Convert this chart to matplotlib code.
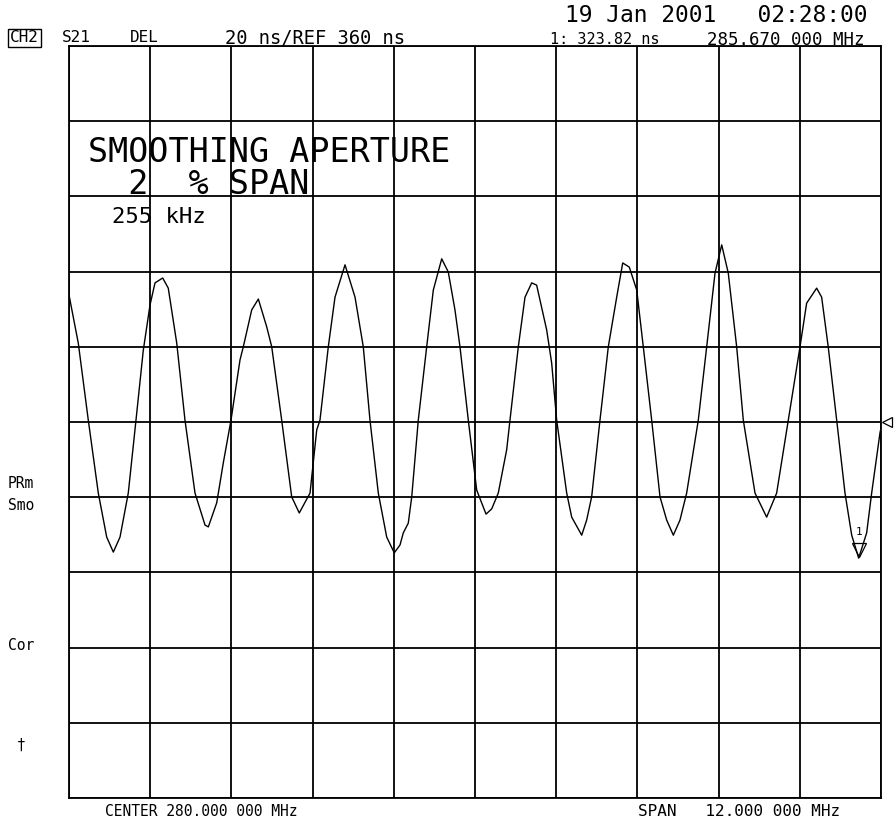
import numpy as np
import matplotlib
matplotlib.use("Agg")
import matplotlib.pyplot as plt
from matplotlib.transforms import offset_copy

# trace: frequency (MHz) vs group delay (ns)
freq_mhz = [274.000, 274.137, 274.285, 274.433, 274.557, 274.655, 274.754, 274.876,
            274.990, 275.098, 275.197, 275.271, 275.385, 275.467, 275.592, 275.714,
            275.862, 276.010, 276.059, 276.183, 276.280, 276.394, 276.527, 276.576,
            276.700, 276.798, 276.922, 276.996, 277.143, 277.291, 277.403, 277.562,
            277.661, 277.709, 277.832, 277.931, 278.079, 278.227, 278.349, 278.448,
            278.571, 278.695, 278.807, 278.892, 278.940, 279.014, 279.065, 279.162,
            279.286, 279.384, 279.508, 279.605, 279.704, 279.778, 279.901, 280.025,
            280.163, 280.247, 280.344, 280.468, 280.517, 280.640, 280.739, 280.838,
            280.911, 281.059, 281.133, 281.207, 281.355, 281.429, 281.577, 281.650,
            281.724, 281.847, 281.970, 282.094, 282.183, 282.280, 282.390, 282.487,
            282.611, 282.734, 282.833, 282.931, 283.029, 283.128, 283.300, 283.424,
            283.547, 283.646, 283.743, 283.867, 283.965, 284.138, 284.310, 284.458,
            284.630, 284.803, 284.901, 285.049, 285.123, 285.220, 285.345, 285.468,
            285.567, 285.670, 285.788, 285.862, 285.985, 286.000]
delay_ns = [393.8, 381.0, 360.5, 341.1, 329.4, 325.4, 329.4, 341.1,
            360.5, 379.1, 391.1, 397.0, 398.3, 395.6, 381.0, 360.5,
            341.1, 332.6, 332.1, 338.5, 349.1, 360.5, 376.5, 380.0,
            389.8, 392.7, 385.3, 380.0, 360.5, 340.1, 335.8, 341.1,
            357.9, 360.5, 380.0, 393.2, 401.8, 393.2, 380.0, 360.5,
            341.1, 329.4, 325.2, 327.3, 330.5, 333.1, 340.1, 360.5,
            380.0, 395.1, 403.4, 399.9, 389.8, 380.0, 360.5, 341.9,
            335.5, 336.9, 341.1, 352.6, 360.5, 380.0, 393.2, 397.0,
            396.4, 384.5, 375.7, 360.5, 341.1, 334.7, 329.9, 333.9,
            340.1, 360.5, 380.0, 393.2, 402.3, 401.2, 395.1, 380.0,
            360.5, 340.1, 333.9, 329.9, 333.9, 341.1, 360.5, 380.0,
            399.6, 407.1, 399.6, 380.0, 360.5, 341.1, 334.7, 341.1,
            360.5, 380.0, 391.6, 395.6, 393.2, 380.0, 360.5, 341.1,
            329.9, 323.8, 330.5, 341.1, 357.1, 358.4]

center_mhz = 280.0
span_mhz = 12.0
ref_ns = 360.0
scale_ns = 20.0
marker_f = 285.670
marker_d = 323.82

W, H = 894, 818
fig = plt.figure(figsize=(W / 100, H / 100), dpi=100)
fig.patch.set_facecolor("white")

# graticule box in pixels: left 69, right 881, top 46, bottom 798
ax = fig.add_axes([69 / W, (H - 798) / H, 812 / W, 752 / H])
ax.set_xlim(center_mhz - span_mhz / 2, center_mhz + span_mhz / 2)
ax.set_ylim(ref_ns - 5 * scale_ns, ref_ns + 5 * scale_ns)
ax.set_xticks(np.linspace(center_mhz - span_mhz / 2, center_mhz + span_mhz / 2, 11))
ax.set_yticks(np.linspace(ref_ns - 5 * scale_ns, ref_ns + 5 * scale_ns, 11))
ax.tick_params(length=0, labelbottom=False, labelleft=False)
ax.grid(True, color="black", linewidth=1.3)
for s in ax.spines.values():
    s.set_linewidth(1.3)

ax.plot(freq_mhz, delay_ns, color="black", linewidth=1.0)

# marker 1 sits above the trace point
up = offset_copy(ax.transData, fig=fig, x=0, y=6, units="points")
ax.plot([marker_f], [marker_d], marker="v", markersize=10, markerfacecolor="none",
        markeredgecolor="black", markeredgewidth=0.9, transform=up, clip_on=False)
ax.text(marker_f, marker_d, "1", transform=offset_copy(ax.transData, fig=fig, x=0, y=15, units="points"),
        ha="center", va="bottom", fontsize=8, family="DejaVu Sans Mono")

# reference position triangle on the right edge
right = offset_copy(ax.transData, fig=fig, x=4, y=0, units="points")
ax.plot([center_mhz + span_mhz / 2], [ref_ns], marker="<", markersize=7,
        markerfacecolor="none", markeredgecolor="black", markeredgewidth=0.9,
        transform=right, clip_on=False)

mono = "DejaVu Sans Mono"


def px(x, y, s, size, **kw):
    fig.text(x / W, 1 - y / H, s, fontsize=size, family=mono, va="center", ha="left", **kw)


# header
px(565, 15, "19 Jan 2001   02:28:00", 16.5)
px(10, 38, "CH2", 11.5, bbox=dict(boxstyle="square,pad=0.12", fc="none", ec="black", lw=1))
px(62, 38, "S21", 11.5)
px(130, 38, "DEL", 11.5)
px(225, 38, "20 ns/REF 360 ns", 13.5)
px(550, 40, "1: 323.82 ns", 11)
px(707, 40, "285.670 000 MHz", 12.5)

# footer
px(105, 811, "CENTER 280.000 000 MHz", 10.5)
px(638, 811, "SPAN   12.000 000 MHz", 11.5)

# side annotations
px(8, 483, "PRm", 10.5)
px(8, 505, "Smo", 10.5)
px(8, 646, "Cor", 10.5)
px(17, 745, "\u2020", 10.5)

# message in the graticule
fig.text(88 / W, 1 - 136 / H, "SMOOTHING APERTURE\n  2  % SPAN", fontsize=24, family=mono,
         va="top", ha="left", linespacing=0.95)
px(112, 217, "255 kHz", 16)

fig.savefig("out.png", dpi=100)
